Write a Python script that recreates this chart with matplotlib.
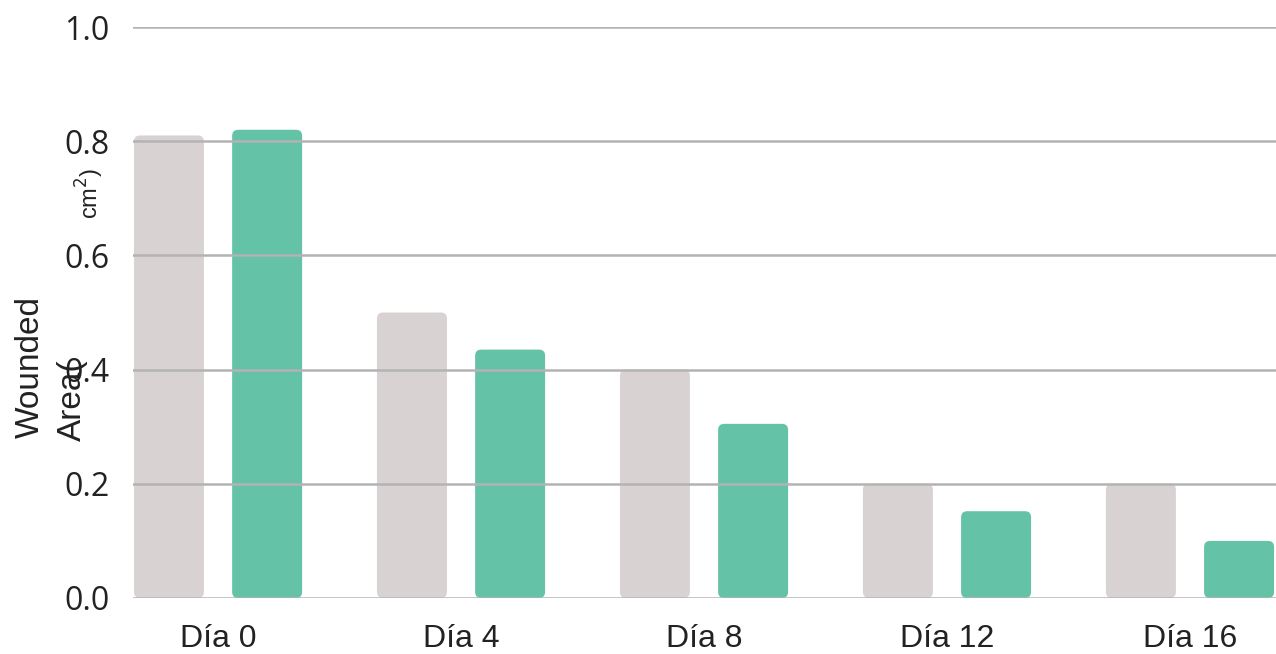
import numpy as np
import matplotlib.pyplot as plt
from matplotlib.patches import FancyBboxPatch

days = ['Día 0', 'Día 4', 'Día 8', 'Día 12', 'Día 16']
control = [0.81, 0.50, 0.40, 0.20, 0.20]
treated = [0.82, 0.435, 0.305, 0.152, 0.10]
yticks = [0.0, 0.2, 0.4, 0.6, 0.8, 1.0]

gray = '#d9d2d3'
green = '#64c3a7'

fig = plt.figure(figsize=(12.76, 6.54), dpi=100)
ax = fig.add_axes([133/1276, 56/654, 1 - 133/1276, 571/654])

x = np.arange(len(days))
w = 0.288
off = 0.202
# data units per pixel, y over x, so the corners come out round
aspect = (1.0 / 571) / (4.704 / 1143)


def rounded_bars(xs, vals, color):
    for xi, v in zip(xs, vals):
        p = FancyBboxPatch((xi - w/2, 0), w, v,
                           boxstyle='round,pad=0,rounding_size=0.025',
                           mutation_aspect=aspect,
                           facecolor=color, edgecolor='none', zorder=2)
        ax.add_patch(p)


rounded_bars(x - off, control, gray)
rounded_bars(x + off, treated, green)

ax.set_xlim(-0.35, 4.354)
ax.set_ylim(0, 1.0)
ax.set_yticks(yticks)
ax.set_yticklabels([f'{t:.1f}' for t in yticks], family='Open Sans', fontsize=23, color='#222222')
ax.set_xticks(x)
ax.set_xticklabels(days, family='Liberation Sans', fontsize=23, color='#222222')
ax.tick_params(length=0)
ax.tick_params(axis='y', pad=17)
ax.tick_params(axis='x', pad=19)
ax.yaxis.grid(True, color='#b3b3b3', linewidth=1.8, zorder=5)
ax.set_axisbelow(False)
for s in ax.spines.values():
    s.set_visible(False)

fig.text(30/1276, 1 - 367/654, 'Wounded', rotation=90, ha='center', va='center',
         family='Liberation Sans', fontsize=24, color='#222222')
fig.text(72/1276, 1 - 400/654, 'Area(', rotation=90, ha='center', va='center',
         family='Liberation Sans', fontsize=24, color='#222222')
fig.text(90/1276, 1 - 193/654, 'cm$^2$)', rotation=90, ha='center', va='center',
         family='Liberation Sans', fontsize=17, color='#222222')

fig.savefig('out.png', dpi=100)
